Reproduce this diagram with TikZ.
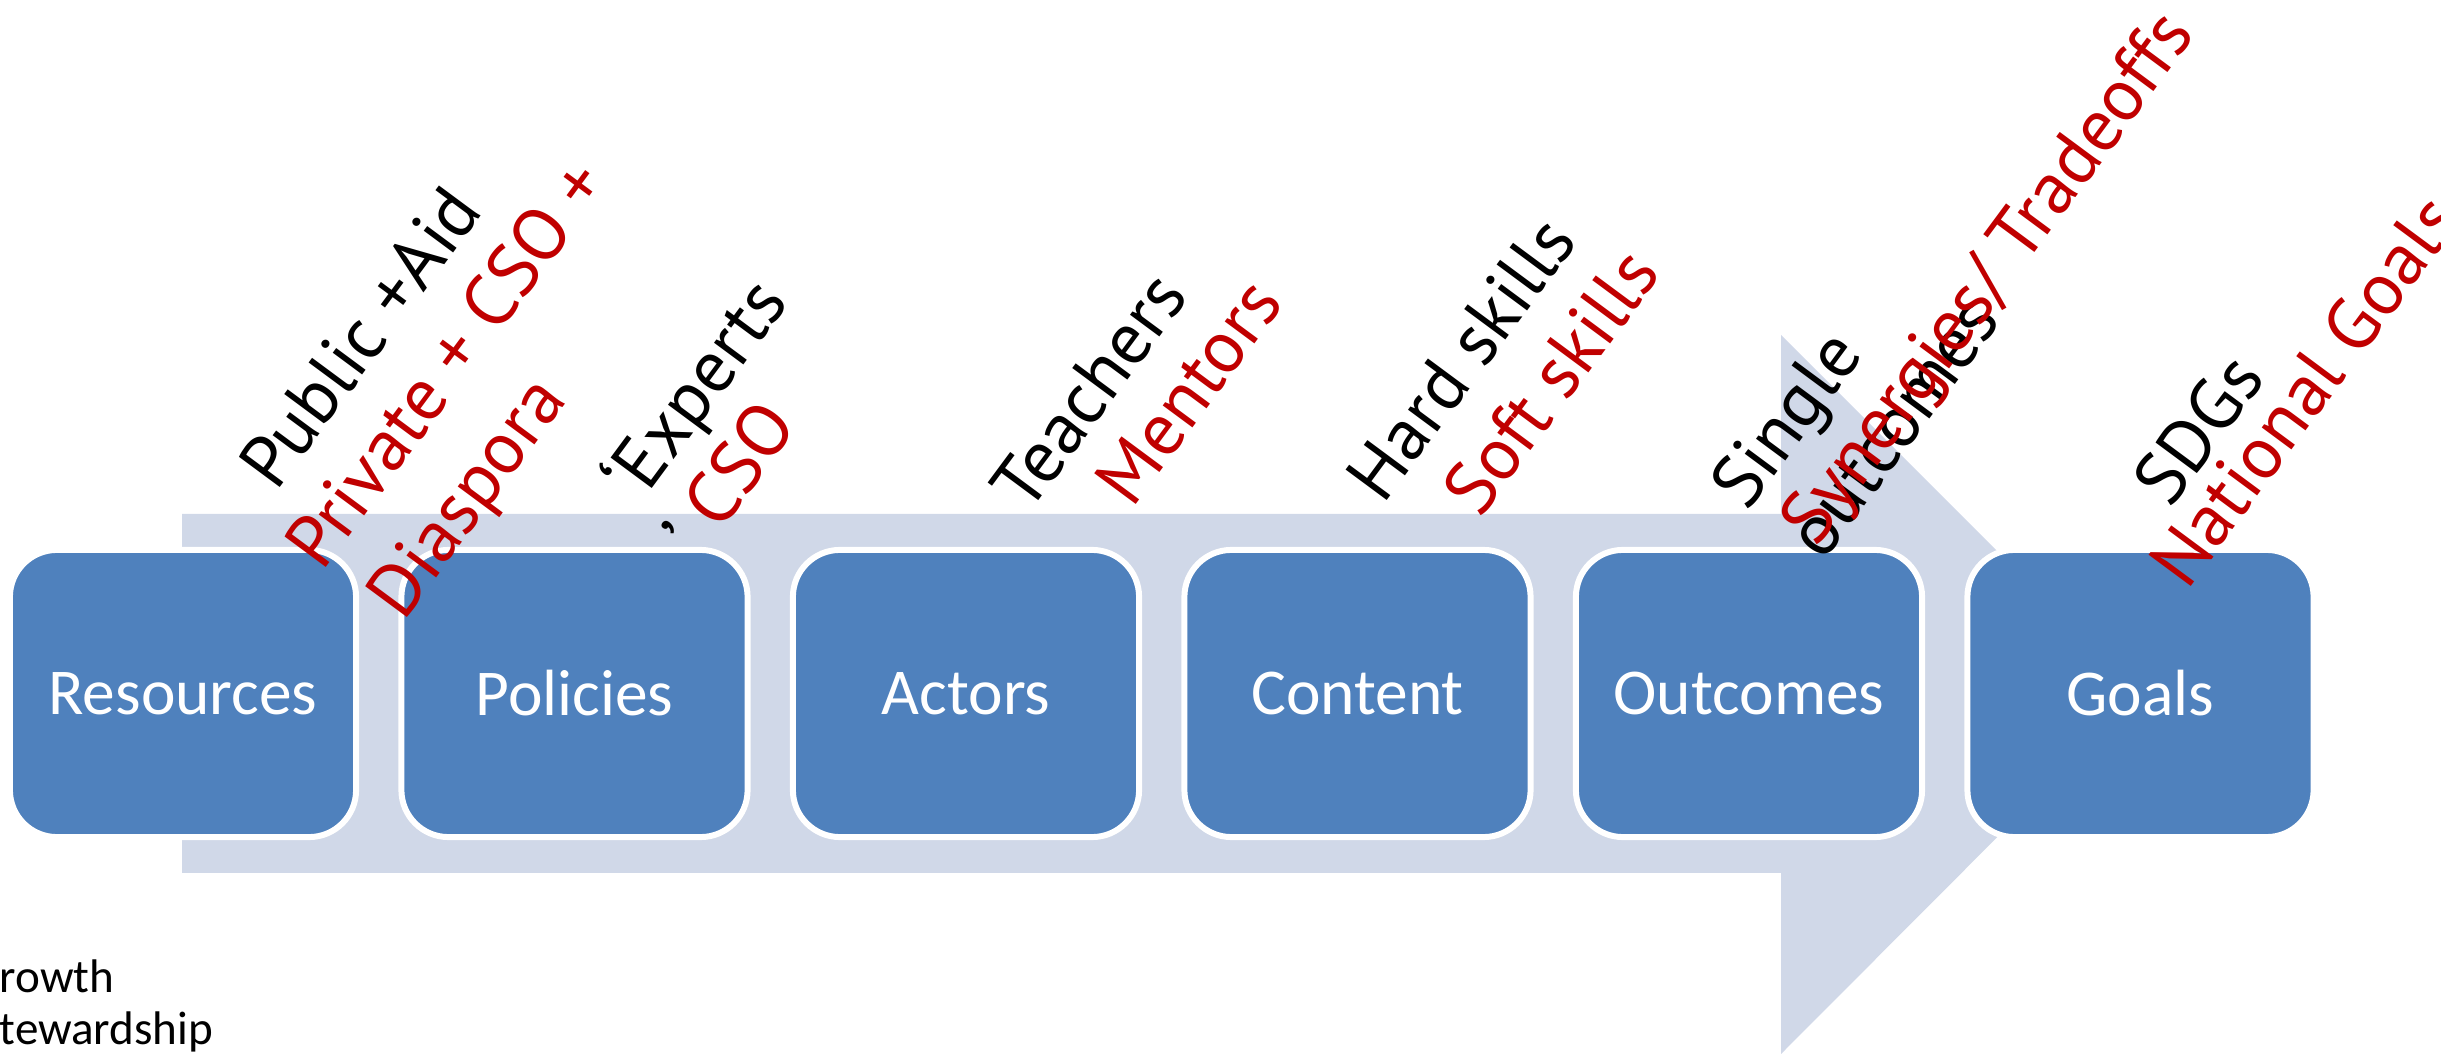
\documentclass[tikz,border=0pt]{standalone}
\usepackage{fontspec}
\setmainfont{Carlito}
\newfontfamily\lblfont{PT Sans}
\definecolor{boxblue}{HTML}{4F81BD}
\definecolor{arrowgray}{HTML}{D0D8E8}
\definecolor{lblred}{HTML}{C00000}
\begin{document}
\begin{tikzpicture}[x=0.01cm,y=0.01cm,
  stage/.style={draw=white, line width=1.7pt, fill=boxblue, rounded corners=0.47cm,
    minimum width=3.46cm, minimum height=2.87cm, inner sep=0pt, text=white,
    font=\fontsize{18.6}{22}\selectfont},
  lblk/.style={rotate=53.5, anchor=base west, inner sep=0pt, text=black,
    font=\lblfont\fontsize{20.8}{24}\selectfont},
  lred/.style={lblk, text=lblred, font=\lblfont\fontsize{21}{25}\selectfont},
  note/.style={anchor=base west, inner sep=0pt, font=\fontsize{13.4}{16}\selectfont}]
\useasboundingbox (0,0) rectangle (2441,1054);
% big background arrow
\fill[arrowgray] (182,540) -- (1781,540) -- (1781,719) -- (2140,360) -- (1781,0)
  -- (1781,181) -- (182,181) -- cycle;
% stages
\node[stage] (res) at (183,360.5) {Resources};
\node[stage] (pol) at (574.5,360.5) {Policies};
\node[stage] (act) at (966,360.5) {Actors};
\node[stage] (con) at (1357.5,360.5) {Content};
\node[stage] (out) at (1749,360.5) {Outcomes};
\node[stage] (gol) at (2140.5,360.5) {Goals};
% rotated labels
\node[lblk] (l1a) at (276,561) {Public +Aid};
\node[lred] (l1b) at (322,481) {Private + CSO +};
\node[lred] (l1c) at (403,431) {Diaspora};
\node[lblk] (l2a) at (640,549) {‘Experts};
\node[lblk] (l2b) at (700,494) {’ \textcolor{lblred}{\fontsize{21}{25}\selectfont CSO}};
\node[lblk] (l3a) at (1028,539) {Teachers};
\node[lred] (l3b) at (1132,544) {Mentors};
\node[lblk] (l4a) at (1383,548) {Hard skills};
\node[lred] (l4b) at (1480,534) {Soft skills};
\node[lblk] (l5a) at (1747,541) {Single};
\node[lblk] (l5b) at (1823,491) {outcomes};
\node[lred] (l5c) at (1816,505) {Synergies/ Tradeoffs};
\node[lblk] (l6a) at (2170,544) {SDGs};
\node[lred] (l6b) at (2187,462) {National Goals};
% clipped notes bottom left
\node[note] (n1) at (-1,61) {rowth};
\node[note] (n2) at (-1,9) {tewardship};
\end{tikzpicture}
\end{document}
